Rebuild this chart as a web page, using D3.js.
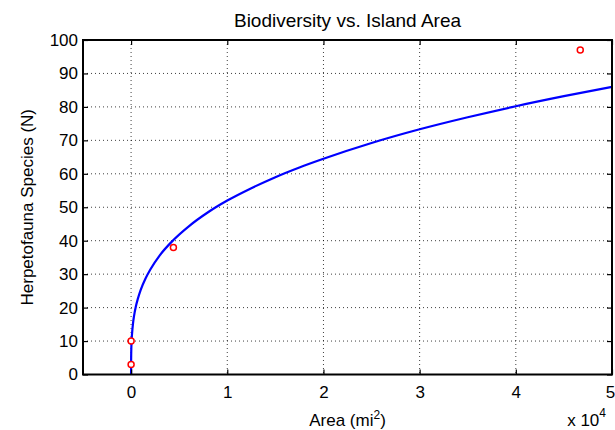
<!DOCTYPE html>
<html>
<head>
<meta charset="utf-8">
<title>Biodiversity vs. Island Area</title>
<script src="https://cdn.jsdelivr.net/npm/d3@7"></script>
<style>
    body { margin: 0; background: #fff; }
    text { font-family: "Liberation Sans", Arial, Helvetica, sans-serif; fill: #000; }
    .axis path, .axis line { stroke: #000; }
    .grid line { stroke: #000; stroke-width: 1; stroke-dasharray: 1,3; opacity: 0.75; }
</style>
</head>
<body>
<script>
// observed islands: area (mi^2) and herpetofauna species count
var islandArea = [1, 3, 4400, 46700];
var islandSpecies = [3, 10, 38, 97];

// fitted species-area curve
var curveArea = [0, 2, 10, 50, 100, 200, 300, 500, 700, 1000, 1500, 2000, 3000, 4400, 6000,
    8000, 10000, 12500, 15000, 17500, 20000, 25000, 30000, 35000, 40000, 45000, 50000];
var curveSpecies = [0, 3.5, 6.0, 9.9, 12.2, 15.3, 17.4, 20.4, 22.6, 25.3, 28.7, 31.4, 35.7, 40.2, 44.3,
    48.5, 52.0, 55.7, 59.0, 61.9, 64.5, 69.2, 73.3, 76.9, 80.2, 83.2, 86.0];

// tick values
var xTicks = [0, 10000, 20000, 30000, 40000, 50000];
var yTicks = [0, 10, 20, 30, 40, 50, 60, 70, 80, 90, 100];

window.onload = function(){
    var w = 615, h = 430;
    var left = 83, right = 612, top = 40, bottom = 374.5;

    var svg = d3.select("body")
        .append("svg")
        .attr("width", w)
        .attr("height", h);

    //scales
    var x = d3.scaleLinear()
        .domain([-5000, 50000])
        .range([left, right]);

    var y = d3.scaleLinear()
        .domain([0, 100])
        .range([bottom, top]);

    //dotted grid
    var grid = svg.append("g").attr("class", "grid");
    grid.selectAll(".gx")
        .data(xTicks)
        .enter()
        .append("line")
        .attr("x1", function(d){ return x(d); })
        .attr("x2", function(d){ return x(d); })
        .attr("y1", top)
        .attr("y2", bottom);
    grid.selectAll(".gy")
        .data(yTicks)
        .enter()
        .append("line")
        .attr("x1", left)
        .attr("x2", right)
        .attr("y1", function(d){ return y(d); })
        .attr("y2", function(d){ return y(d); });

    //fitted curve
    var line = d3.line()
        .x(function(d){ return x(d[0]); })
        .y(function(d){ return y(d[1]); })
        .curve(d3.curveMonotoneX);

    svg.append("path")
        .datum(d3.zip(curveArea, curveSpecies))
        .attr("d", line)
        .attr("fill", "none")
        .attr("stroke", "#0000ff")
        .attr("stroke-width", 2.2);

    //data points
    svg.selectAll(".pts")
        .data(d3.zip(islandArea, islandSpecies))
        .enter()
        .append("circle")
        .attr("class", "pts")
        .attr("cx", function(d){ return x(d[0]); })
        .attr("cy", function(d){ return y(d[1]); })
        .attr("r", 3)
        .attr("fill", "#fff")
        .attr("stroke", "#ff0000")
        .attr("stroke-width", 1.5);

    //axes, ticks pointing inward on all four sides
    var fmtX = function(d){ return d / 10000; };

    var xAxis = svg.append("g")
        .attr("class", "axis")
        .attr("transform", "translate(0," + bottom + ")")
        .call(d3.axisBottom(x).tickValues(xTicks).tickFormat(fmtX).tickSizeInner(-5).tickSizeOuter(0).tickPadding(11));

    //last label sits on the window edge, nudge it in a bit
    xAxis.selectAll(".tick text")
        .filter(function(d){ return d === 50000; })
        .attr("dx", -2);

    var xTop = svg.append("g")
        .attr("class", "axis")
        .attr("transform", "translate(0," + top + ")")
        .call(d3.axisTop(x).tickValues(xTicks).tickFormat("").tickSizeInner(-5).tickSizeOuter(0));

    var yAxis = svg.append("g")
        .attr("class", "axis")
        .attr("transform", "translate(" + left + ",0)")
        .call(d3.axisLeft(y).tickValues(yTicks).tickSizeInner(-5).tickSizeOuter(0).tickPadding(5));

    var yRight = svg.append("g")
        .attr("class", "axis")
        .attr("transform", "translate(" + right + ",0)")
        .call(d3.axisRight(y).tickValues(yTicks).tickFormat("").tickSizeInner(-5).tickSizeOuter(0));

    svg.selectAll(".axis text").style("font-size", "17px").style("font-family", null);
    svg.selectAll(".axis line").attr("stroke-width", 1.2);
    svg.selectAll(".axis .domain").remove();

    //box around the plot
    svg.append("rect")
        .attr("x", left)
        .attr("y", top)
        .attr("width", right - left)
        .attr("height", bottom - top)
        .attr("fill", "none")
        .attr("stroke", "#000")
        .attr("stroke-width", 2);

    //title
    svg.append("text")
        .attr("x", (left + right) / 2)
        .attr("y", 27)
        .attr("text-anchor", "middle")
        .style("font-size", "19px")
        .text("Biodiversity vs. Island Area");

    //x label with superscript
    var xl = svg.append("text")
        .attr("x", (left + right) / 2)
        .attr("y", 426)
        .attr("text-anchor", "middle")
        .style("font-size", "17px");
    xl.append("tspan").text("Area (mi");
    xl.append("tspan").attr("dy", -7).style("font-size", "12px").text("2");
    xl.append("tspan").attr("dy", 7).text(")");

    //exponent label
    var ex = svg.append("text")
        .attr("x", 606)
        .attr("y", 426)
        .attr("text-anchor", "end")
        .style("font-size", "17px");
    ex.append("tspan").text("x 10");
    ex.append("tspan").attr("dy", -9).style("font-size", "12px").text("4");

    //y label
    svg.append("text")
        .attr("transform", "translate(33," + ((top + bottom) / 2) + ") rotate(-90)")
        .attr("text-anchor", "middle")
        .style("font-size", "17px")
        .text("Herpetofauna Species (N)");
};
</script>
</body>
</html>
